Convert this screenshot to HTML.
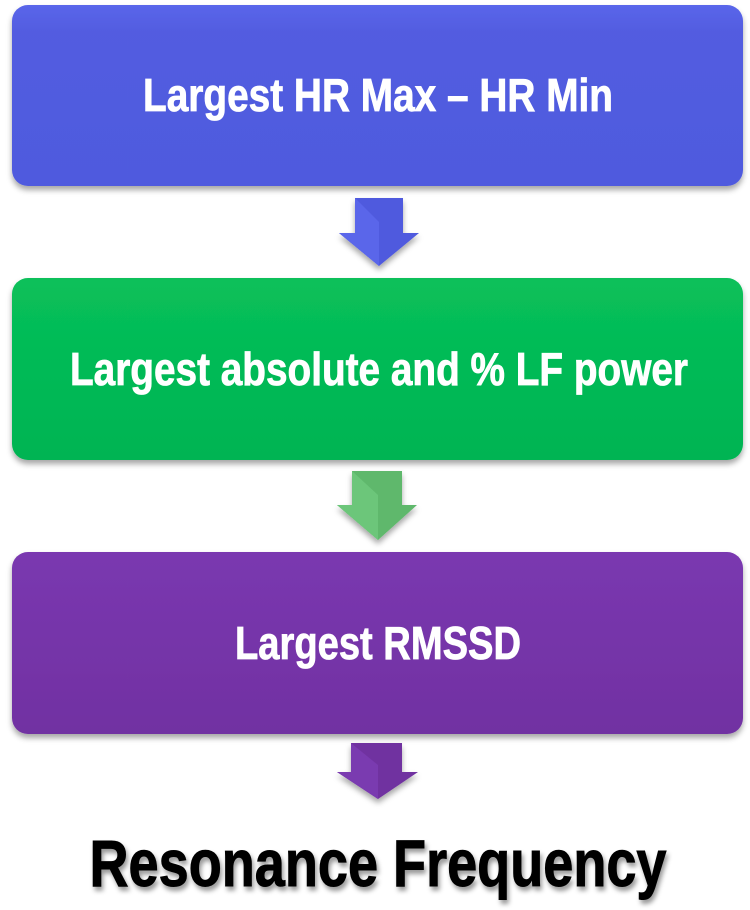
<!DOCTYPE html>
<html><head><meta charset="utf-8"><style>
html,body{margin:0;padding:0;background:#fff;width:750px;height:910px;overflow:hidden}
</style></head><body>
<svg width="750" height="910" viewBox="0 0 750 910" xmlns="http://www.w3.org/2000/svg">
<defs>
<filter id="sh" x="-5%" y="-10%" width="110%" height="130%"><feDropShadow dx="0" dy="4" stdDeviation="3" flood-color="#000" flood-opacity="0.35"/></filter>
<filter id="tsh" x="-5%" y="-20%" width="110%" height="150%"><feDropShadow dx="2" dy="4" stdDeviation="2.5" flood-color="#000" flood-opacity="0.4"/></filter>
<linearGradient id="gb" x1="0" y1="0" x2="0" y2="1"><stop offset="0" stop-color="#5a66ea"/><stop offset="0.15" stop-color="#525ce0"/><stop offset="1" stop-color="#4f5ade"/></linearGradient>
<linearGradient id="gg" x1="0" y1="0" x2="0" y2="1"><stop offset="0" stop-color="#08c05a"/><stop offset="1" stop-color="#00b452"/></linearGradient>
<linearGradient id="gp" x1="0" y1="0" x2="0" y2="1"><stop offset="0" stop-color="#7a38b0"/><stop offset="1" stop-color="#7131a2"/></linearGradient>
</defs>
<rect x="12" y="5" width="731" height="181" rx="16" fill="url(#gb)" filter="url(#sh)"/>
<rect x="12" y="278" width="731" height="182" rx="16" fill="url(#gg)" filter="url(#sh)"/>
<rect x="12" y="552" width="731" height="182" rx="16" fill="url(#gp)" filter="url(#sh)"/>

<g filter="url(#sh)">
<polygon points="355,198 403,198 403,233 419,233 379,266 339,233 355,233" fill="#4f5ade"/>
<polygon points="355,198 379,222 379,266 339,233 355,233" fill="#5a66ea"/>
<polygon points="352,471 402,471 402,505 417,505 378,540 337,505 352,505" fill="#5fb86c"/>
<polygon points="352,471 378,495 378,540 337,505 352,505" fill="#6cc67a"/>
<polygon points="351,743 402,743 402,772 418,772 378,799 337,772 351,772" fill="#7030a0"/>
<polygon points="351,743 378,765 378,799 337,772 351,772" fill="#7a3ab0"/>
</g>

<g font-family="'Liberation Sans Narrow','Liberation Sans',sans-serif" font-weight="bold" fill="#fff" stroke="#fff" stroke-width="0.8" text-anchor="middle">
<text x="378" y="111" font-size="46" textLength="470" lengthAdjust="spacingAndGlyphs">Largest HR Max – HR Min</text>
<text x="379" y="385" font-size="46" textLength="618" lengthAdjust="spacingAndGlyphs">Largest absolute and % LF power</text>
<text x="378" y="659" font-size="46" textLength="286" lengthAdjust="spacingAndGlyphs">Largest RMSSD</text>
</g>
<text x="378" y="886" font-family="'Liberation Sans Narrow','Liberation Sans',sans-serif" font-weight="bold" font-size="66" fill="#000" stroke="#000" stroke-width="1" text-anchor="middle" textLength="577" lengthAdjust="spacingAndGlyphs" filter="url(#tsh)">Resonance Frequency</text>
</svg>
</body></html>
